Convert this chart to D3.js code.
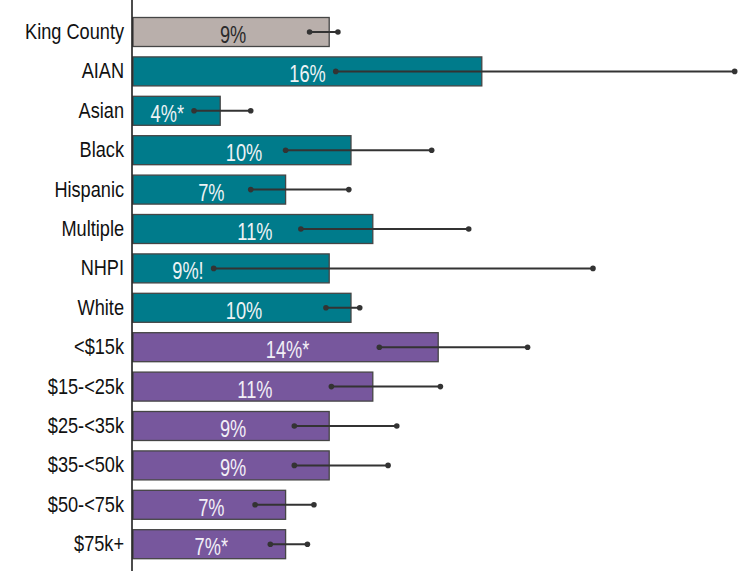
<!DOCTYPE html>
<html>
<head>
<meta charset="utf-8">
<script src="https://cdn.jsdelivr.net/npm/d3@7"></script>
<style>
  body { margin: 0; background: #fff; }
  svg { display: block; }
  text { font-family: "Liberation Sans", Arial, sans-serif; }
</style>
</head>
<body>
<svg id="chart" width="740" height="571"></svg>
<script>
// Prevalence by group, with 95% confidence intervals
const categories = ["King County", "AIAN", "Asian", "Black", "Hispanic", "Multiple", "NHPI", "White",
                    "<$15k", "$15-<25k", "$25-<35k", "$35-<50k", "$50-<75k", "$75k+"];
const groups     = ["all", "race", "race", "race", "race", "race", "race", "race",
                    "income", "income", "income", "income", "income", "income"];
const values     = [9, 16, 4, 10, 7, 11, 9, 10, 14, 11, 9, 9, 7, 7];
const lower      = [8.1, 9.3, 2.8, 7.0, 5.4, 7.7, 3.7, 8.85, 11.3, 9.1, 7.4, 7.4, 5.6, 6.3];
const upper      = [9.4, 27.6, 5.4, 13.7, 9.9, 15.4, 21.1, 10.4, 18.1, 14.1, 12.1, 11.7, 8.3, 8.0];
const flags      = ["", "", "*", "", "", "", "!", "", "*", "", "", "", "", "*"];

const colors = { all: "#b9afab", race: "#007b8b", income: "#77579d" };
const textColors = { all: "#2a2a2a", race: "#eef3f5", income: "#f2eff7" };

// narrow type: regular face squeezed horizontally
const labelScale = 0.845, valueScale = 0.76;

const data = categories.map((c, i) => ({
  cat: c, group: groups[i], value: values[i], lo: lower[i], hi: upper[i], flag: flags[i]
}));

const svg = d3.select("#chart");

const x = d3.scaleLinear().domain([0, 28]).range([133, 133 + 28 * 21.8]);
const y = d3.scaleBand().domain(categories).range([12.3, 563.9])
  .paddingInner(0.264).paddingOuter(0.132);
const cy = d => y(d.cat) + y.bandwidth() / 2;

// bars
svg.append("g").selectAll("rect").data(data).join("rect")
  .attr("x", x(0))
  .attr("y", d => y(d.cat))
  .attr("width", d => x(d.value) - x(0))
  .attr("height", y.bandwidth())
  .attr("fill", d => colors[d.group])
  .attr("stroke", "#454545")
  .attr("stroke-width", 1.3);

// value labels: centred in the bar, nudged left to clear the interval
const vlab = svg.append("g").selectAll("text").data(data).join("text")
  .attr("text-anchor", "middle")
  .attr("font-size", 24)
  .attr("fill", d => textColors[d.group])
  .text(d => d.value + "%" + d.flag);
vlab.attr("transform", function (d) {
  const w = this.getComputedTextLength() * valueScale;
  const cx = Math.min((x(0) + x(d.value)) / 2 + 2, x(d.lo) - w / 2 - 10);
  return `translate(${cx},${cy(d) + 11}) scale(${valueScale},1)`;
});

// confidence intervals
const ci = svg.append("g");
ci.selectAll("line").data(data).join("line")
  .attr("x1", d => x(d.lo))
  .attr("x2", d => x(d.hi))
  .attr("y1", cy)
  .attr("y2", cy)
  .attr("stroke", "#333")
  .attr("stroke-width", 2);
ci.selectAll("circle.lo").data(data).join("circle").attr("class", "lo")
  .attr("cx", d => x(d.lo)).attr("cy", cy)
  .attr("r", 2.8).attr("fill", "#333");
ci.selectAll("circle.hi").data(data).join("circle").attr("class", "hi")
  .attr("cx", d => x(d.hi)).attr("cy", cy)
  .attr("r", 2.8).attr("fill", "#333");

// category axis
const axis = svg.append("g")
  .attr("transform", `translate(${x(0) - 1},0)`)
  .call(d3.axisLeft(y).tickSize(0));
axis.select(".domain").remove();
axis.selectAll(".tick text")
  .attr("x", -8 / labelScale)
  .attr("dy", null)
  .attr("y", 7)
  .attr("font-size", 21.5)
  .attr("fill", "#111")
  .attr("transform", `scale(${labelScale},1)`);
svg.append("line")
  .attr("x1", x(0) - 1).attr("x2", x(0) - 1)
  .attr("y1", 0).attr("y2", 571)
  .attr("stroke", "#111").attr("stroke-width", 1.5);
</script>
</body>
</html>
